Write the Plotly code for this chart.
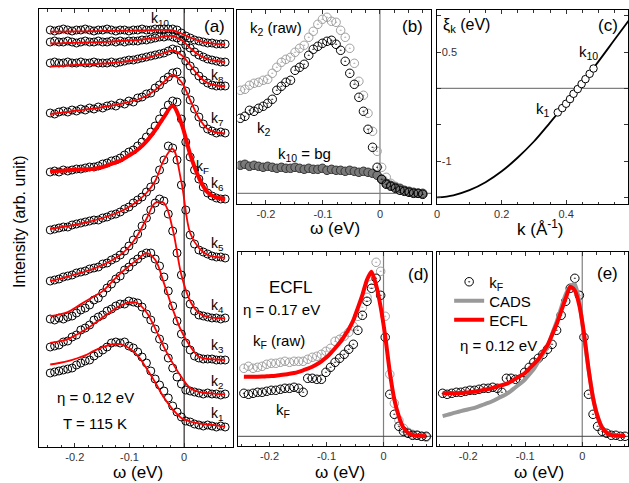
import plotly.graph_objects as go

W, H = 629, 483
FONT = "Liberation Sans, Arial, sans-serif"

# ---------------- data ----------------
# energy grid of the measured EDCs (eV)
OMEGA = [-0.245, -0.237, -0.229, -0.221, -0.213, -0.205, -0.197, -0.189, -0.181, -0.173,
         -0.165, -0.157, -0.149, -0.141, -0.133, -0.125, -0.117, -0.109, -0.101, -0.093,
         -0.085, -0.077, -0.069, -0.061, -0.053, -0.045, -0.037, -0.029, -0.021, -0.013,
         -0.005, 0.003, 0.011, 0.019, 0.027, 0.035, 0.043, 0.051, 0.059, 0.067, 0.075]
# energy grid of the fit curves in panel (a)
OMEGA_FIT = [-0.245, -0.229, -0.213, -0.197, -0.181, -0.165, -0.149, -0.133, -0.117, -0.101,
             -0.085, -0.069, -0.053, -0.037, -0.021, -0.005, 0.011, 0.027, 0.043, 0.059, 0.075]

# panel (a): stacked EDCs (arb. units, offsets included)
A_K1 = [74, 75, 76, 77, 78, 79, 82, 84, 86, 87, 91, 94, 97, 100, 104, 105, 104, 105, 101, 99,
        95, 90, 84, 76, 68, 62, 56, 49, 41, 35, 30, 26, 25, 23, 22, 21, 22, 21, 20, 21, 20]
A_K2 = [100, 101, 102, 105, 106, 110, 112, 117, 119, 122, 127, 130, 132, 136, 138, 141, 143, 143, 146, 145,
        144, 140, 133, 127, 118, 108, 100, 89, 79, 70, 63, 57, 56, 55, 54, 53, 54, 53, 53, 52, 53]
A_K3 = [128, 127, 129, 128, 130, 131, 134, 137, 139, 142, 147, 149, 154, 159, 163, 168, 171, 177, 180, 185,
        188, 192, 194, 194, 188, 181, 170, 156, 141, 126, 113, 104, 97, 91, 89, 88, 88, 88, 87, 87, 87]
A_K4 = [166, 167, 168, 170, 171, 172, 174, 175, 176, 178, 179, 180, 183, 184, 187, 189, 192, 196, 201, 207,
        213, 221, 229, 237, 244, 248, 246, 233, 216, 194, 172, 153, 143, 136, 132, 131, 130, 129, 129, 128, 129]
A_K5 = [217, 218, 219, 220, 220, 222, 223, 224, 225, 226, 227, 227, 229, 230, 232, 233, 235, 238, 240, 244,
        247, 250, 255, 260, 267, 277, 287, 301, 299, 287, 262, 237, 212, 203, 197, 195, 193, 191, 190, 190, 189]
A_K6 = [275, 276, 275, 277, 276, 277, 278, 278, 279, 280, 280, 281, 283, 284, 286, 287, 289, 292, 295, 297,
        301, 305, 310, 315, 321, 328, 335, 342, 346, 345, 328, 305, 290, 277, 268, 260, 254, 251, 249, 248, 248]
A_K7 = [334, 333, 335, 336, 335, 337, 336, 338, 337, 339, 338, 340, 339, 341, 342, 341, 344, 343, 346, 345,
        349, 350, 353, 354, 359, 362, 367, 370, 374, 375, 366, 356, 347, 338, 330, 323, 318, 316, 314, 315, 314]
A_K8 = [384, 385, 384, 384, 385, 384, 384, 385, 384, 384, 385, 384, 384, 384, 385, 384, 385, 386, 387, 387,
        388, 389, 390, 391, 392, 393, 394, 396, 398, 397, 392, 386, 381, 376, 371, 367, 364, 362, 361, 361, 361]
A_K9 = [405, 406, 405, 405, 406, 405, 404, 405, 406, 405, 405, 406, 405, 405, 406, 405, 406, 405, 406, 406,
        406, 407, 407, 408, 409, 410, 410, 411, 410, 409, 406, 402, 399, 395, 392, 390, 388, 387, 386, 385, 385]
A_K10 = [417, 416, 417, 418, 417, 416, 417, 417, 418, 417, 416, 417, 417, 418, 417, 416, 417, 417, 416, 417,
         417, 418, 417, 417, 418, 418, 418, 418, 418, 417, 414, 411, 409, 407, 406, 405, 404, 404, 403, 403, 403]

A_FIT1 = [82.5, 84, 85.8, 88.5, 91.7, 96.1, 99.8, 102.5, 102.9, 99, 91.3, 78.8, 64.8, 49.4, 37.7, 29, 25.5, 23.6, 22.5, 21.6, 20.3]
A_FIT2 = [104.2, 105.7, 107.9, 112.3, 117.2, 123.2, 129.6, 135.8, 141.2, 144.6, 143.8, 134.8, 118.7, 99.9, 83.9, 70, 59, 55, 53.8, 53.1, 52.7]
A_FIT3 = [130.8, 132.4, 134.8, 140.1, 145.4, 150.6, 155.9, 164.6, 173.4, 180.8, 187.6, 193.8, 187.2, 163.9, 138, 115.8, 100.7, 90.2, 88.1, 87.5, 87]
A_FIT4 = [166, 168, 170.5, 173, 175.5, 178.5, 182, 186.5, 192, 200, 212, 228, 244, 244, 218, 172, 146, 134, 130, 129, 128.7]
A_FIT5 = [218, 219.5, 221, 222.5, 224.5, 226.5, 229, 232, 235.5, 240, 246, 254, 266, 287, 298, 265, 214, 199, 192, 190, 189.3]
A_FIT6 = [275.5, 276.2, 276.7, 277.2, 277.7, 278.2, 280, 283.2, 286.2, 291.5, 297.3, 305.7, 316.8, 329.9, 340.9, 323.5, 292.8, 269.3, 254.7, 249.5, 248]
A_FIT7 = [333, 334, 335, 336.5, 337.5, 338.5, 340, 341.5, 343, 345, 347.5, 351, 357, 365, 372, 365, 347, 329, 318, 314.5, 313.7]
A_FIT8 = [380.5, 381, 381.5, 382, 382.5, 383, 383.5, 384, 385, 386, 387.5, 389, 391.5, 394, 396.5, 392, 382, 371, 364, 361.5, 361]
A_FIT9 = [403.5, 403.7, 404, 404.2, 404.5, 404.8, 405, 405.5, 406, 406.5, 407, 408, 409, 410.5, 411, 407, 399, 392, 388, 386, 385]
A_FIT10 = [415.3, 415.4, 415.5, 415.6, 415.7, 415.8, 416, 416.1, 416.2, 416.3, 416.5, 416.7, 417, 417.2, 416.5, 413.5, 409.5, 406.2, 404.2, 403.2, 402.7]

A_LABELS = ["k<sub>1</sub>", "k<sub>2</sub>", "k<sub>3</sub>", "k<sub>4</sub>", "k<sub>5</sub>",
            "k<sub>6</sub>", "k<sub>7</sub>", "k<sub>8</sub>", "k<sub>F</sub>", "k<sub>10</sub>"]

# panel (b)
B_RAW = [103, 104, 108, 110, 111, 113, 114, 120, 126, 131, 134, 136, 141, 145, 148, 156, 162, 169, 174, 176,
         172, 171, 163, 156, 145, 130, 112, 98, 80, 62, 42, 26, 16, 10, 7, 4, 2, 1, 0, 0, -1]
B_K2 = [75, 77, 83, 82, 85, 87, 90, 94, 103, 107, 111, 113, 123, 126, 129, 138, 144, 147, 150, 152,
        153, 149, 143, 132, 120, 109, 96, 82, 64, 46, 26, 14, 9, 7, 5, 3, 2, 1, 0, 0, -1]
B_BG = [28, 29, 27, 28, 27, 26, 27, 26, 25, 26, 25, 25, 26, 25, 24, 25, 24, 24, 25, 23,
        24, 23, 23, 22, 23, 22, 21, 22, 21, 20, 18, 14, 10, 8, 6, 5, 3, 2, 1, 0, 0]

# panel (c): dispersion
C_K = [0, 0.05, 0.1, 0.15, 0.2, 0.25, 0.3, 0.35, 0.4, 0.45, 0.5, 0.55, 0.6]
C_XI = [-1.50, -1.47, -1.40, -1.29, -1.14, -0.95, -0.73, -0.47, -0.20, 0.08, 0.37, 0.67, 0.97]
C_K_PTS = [0.374, 0.388, 0.400, 0.412, 0.423, 0.436, 0.448, 0.460, 0.473, 0.485]
C_XI_PTS = [-0.33, -0.27, -0.21, -0.146, -0.073, -0.008, 0.061, 0.129, 0.202, 0.275]

# panels (d), (e)
KF = [43, 42, 43, 44, 44, 45, 46, 46, 47, 48, 48, 49, 48, 44, 58, 58, 57, 57, 64, 69,
      74, 78, 82, 87, 92, 106, 121, 135, 148, 158, 141, 99, 42, 22, 10, 5, 3, 1, 1, 0, 0]
KF_RAW = [68, 70, 68, 69, 70, 72, 73, 73, 74, 75, 74, 75, 75, 75, 77, 79, 80, 82, 85, 88,
          95, 97, 100, 104, 110, 120, 129, 139, 152, 174, 165, 120, 62, 33, 16, 8, 4, 2, 1, 0, -1]
ECFL_D = [59.6, 59.6, 59.6, 59.6, 59.7, 60, 60.2, 60.6, 61.2, 61.8, 62.5, 63.3, 64.5, 66, 67.6, 69.6, 72, 75, 78.5, 83,
          88, 93.5, 100, 107, 116, 128.5, 141.5, 156.5, 164.5, 151.3, 129.3, 100, 64.3, 36.8, 19.6, 8.5, 3.5, 1.3, 0.7, 0.3, 0]
ECFL_E = [43, 43, 43.1, 43.1, 43.3, 43.7, 44, 44.6, 45.5, 46.4, 47.3, 48.4, 49.8, 51.2, 52.4, 54.8, 57.6, 60.3, 63, 67.7,
          72.3, 77, 84, 91, 101.3, 112, 125, 138, 149.5, 145.8, 130.6, 103.2, 67.6, 38, 19.7, 8.5, 3.5, 1.3, 0.8, 0.4, 0.2]
CADS_E = [20.2, 21.4, 22.7, 24, 25.2, 26.3, 27.4, 28.5, 30.1, 31.8, 33.4, 35.3, 37.6, 39.9, 42.2, 45.4, 49.1, 52.7, 56.4, 61.8,
          67.2, 74.5, 82, 89, 102, 114.5, 128.5, 142, 150, 152, 134, 100, 67, 39, 20, 9, 4, 1.5, 0.8, 0.5, 0.3]

TICK_W = [-0.2, -0.1, 0]
TICK_W_TEXT = ["-0.2", "-0.1", "0"]
TICK_K = [0, 0.2, 0.4]
TICK_K_TEXT = ["0", "0.2", "0.4"]
TICK_XI = [-1, 0.5]
TICK_XI_TEXT = ["-1", "0.5"]

# ---------------- figure ----------------
fig = go.Figure()

RED = "#ff0000"
A_SERIES = [A_K1, A_K2, A_K3, A_K4, A_K5, A_K6, A_K7, A_K8, A_K9, A_K10]
A_FITS = [A_FIT1, A_FIT2, A_FIT3, A_FIT4, A_FIT5, A_FIT6, A_FIT7, A_FIT8, A_FIT9, A_FIT10]

for vals in A_SERIES:
    fig.add_trace(go.Scatter(x=OMEGA, y=vals, mode="markers", xaxis="x", yaxis="y",
                             marker=dict(symbol="circle-open", size=8, color="black", line=dict(width=1)),
                             showlegend=False, hoverinfo="skip"))
for i, fit in enumerate(A_FITS):
    fig.add_trace(go.Scatter(x=OMEGA_FIT, y=fit, mode="lines", xaxis="x", yaxis="y",
                             line=dict(color=RED, width=4 if i == 5 else 1.8, shape="spline", smoothing=1),
                             showlegend=False, hoverinfo="skip"))

# (b)
fig.add_trace(go.Scatter(x=OMEGA, y=B_RAW, mode="markers", xaxis="x2", yaxis="y2",
                         marker=dict(symbol="circle-open-dot", size=8.5, color="#a0a0a0", line=dict(width=1)),
                         showlegend=False, hoverinfo="skip"))
fig.add_trace(go.Scatter(x=OMEGA, y=B_BG, mode="markers", xaxis="x2", yaxis="y2",
                         marker=dict(symbol="circle", size=8.5, color="#7a7a7a", line=dict(width=1, color="#333333")),
                         showlegend=False, hoverinfo="skip"))
fig.add_trace(go.Scatter(x=OMEGA, y=B_K2, mode="markers", xaxis="x2", yaxis="y2",
                         marker=dict(symbol="circle-open-dot", size=8.5, color="black", line=dict(width=1)),
                         showlegend=False, hoverinfo="skip"))

# (c)
fig.add_trace(go.Scatter(x=C_K, y=C_XI, mode="lines", xaxis="x3", yaxis="y3",
                         line=dict(color="black", width=1.8, shape="spline", smoothing=1),
                         showlegend=False, hoverinfo="skip"))
fig.add_trace(go.Scatter(x=C_K_PTS, y=C_XI_PTS, mode="markers", xaxis="x3", yaxis="y3",
                         marker=dict(symbol="circle", size=7.5, color="white", line=dict(width=1, color="black")),
                         showlegend=False, hoverinfo="skip"))

# (d)
fig.add_trace(go.Scatter(x=OMEGA, y=KF_RAW, mode="markers", xaxis="x4", yaxis="y4",
                         marker=dict(symbol="circle-open-dot", size=8.5, color="#a0a0a0", line=dict(width=1)),
                         showlegend=False, hoverinfo="skip"))
fig.add_trace(go.Scatter(x=OMEGA, y=KF, mode="markers", xaxis="x4", yaxis="y4",
                         marker=dict(symbol="circle-open-dot", size=8.5, color="black", line=dict(width=1)),
                         showlegend=False, hoverinfo="skip"))
fig.add_trace(go.Scatter(x=OMEGA, y=ECFL_D, mode="lines", xaxis="x4", yaxis="y4",
                         line=dict(color=RED, width=4, shape="spline", smoothing=0.6),
                         showlegend=False, hoverinfo="skip"))

# (e) – each legend entry gets its own legend box so the rows sit where the reference has them
fig.add_trace(go.Scatter(x=OMEGA, y=KF, mode="markers", xaxis="x5", yaxis="y5", name="k<sub>F</sub>",
                         marker=dict(symbol="circle-open-dot", size=8.5, color="black", line=dict(width=1)),
                         showlegend=True, legend="legend", hoverinfo="skip"))
fig.add_trace(go.Scatter(x=OMEGA, y=CADS_E, mode="lines", xaxis="x5", yaxis="y5", name="CADS",
                         line=dict(color="#999999", width=4, shape="spline", smoothing=0.6),
                         showlegend=True, legend="legend2", hoverinfo="skip"))
fig.add_trace(go.Scatter(x=OMEGA, y=ECFL_E, mode="lines", xaxis="x5", yaxis="y5", name="ECFL",
                         line=dict(color=RED, width=4, shape="spline", smoothing=0.6),
                         showlegend=True, legend="legend3", hoverinfo="skip"))


def dom_x(a, b):
    return [a / W, b / W]


def dom_y(top, bottom):
    return [1 - bottom / H, 1 - top / H]


def xax(dom, rng, anchor, tickvals, ticktext, minor_dtick):
    return dict(domain=dom, range=rng, anchor=anchor, showgrid=False, zeroline=False,
                showline=True, linecolor="black", linewidth=1, mirror="ticks",
                ticks="inside", ticklen=4, tickwidth=1, tickcolor="#333333",
                tickmode="array", tickvals=tickvals, ticktext=ticktext,
                tickfont=dict(size=11, color="#333333", family=FONT),
                minor=dict(ticks="inside", ticklen=2.5, tickwidth=1, tickcolor="#333333",
                           dtick=minor_dtick, tick0=0, showgrid=False))


def yax(dom, rng, anchor):
    return dict(domain=dom, range=rng, anchor=anchor, showgrid=False, zeroline=False,
                showline=True, linecolor="black", linewidth=1, mirror=True,
                ticks="", showticklabels=False)


def leg(ypx):
    return dict(x=449 / W, y=1 - ypx / H, xanchor="left", yanchor="middle", bgcolor="rgba(0,0,0,0)",
                borderwidth=0, font=dict(size=15, family=FONT, color="black"),
                itemwidth=30, tracegroupgap=0)


layout = dict(
    width=W, height=H, margin=dict(l=0, r=0, t=0, b=0),
    paper_bgcolor="white", plot_bgcolor="white",
    font=dict(family=FONT, color="black"),
    xaxis=xax(dom_x(36.7, 231.3), [-0.2647, 0.0891], "y", TICK_W, TICK_W_TEXT, 0.025),
    yaxis=yax(dom_y(9, 447), [0, 438], "x"),
    xaxis2=xax(dom_x(236, 431), [-0.250, 0.090], "y2", TICK_W, TICK_W_TEXT, 0.025),
    yaxis2=yax(dom_y(10, 204), [-10.7, 183.3], "x2"),
    xaxis3=xax(dom_x(436.7, 629), [-0.001, 0.592], "y3", TICK_K, TICK_K_TEXT, 0.05),
    yaxis3=dict(domain=dom_y(10, 204), range=[-1.59, 1.08], anchor="x3", showgrid=False, zeroline=False,
                showline=True, linecolor="black", linewidth=1, mirror="ticks",
                ticks="inside", ticklen=4, tickcolor="#333333", ticklabelposition="inside",
                tickmode="array", tickvals=TICK_XI, ticktext=TICK_XI_TEXT,
                tickfont=dict(size=11, color="#333333", family=FONT),
                minor=dict(ticks="inside", ticklen=4, tickcolor="#333333", dtick=0.5, tick0=0)),
    xaxis4=xax(dom_x(236.7, 431.7), [-0.255, 0.085], "y4", TICK_W, TICK_W_TEXT, 0.025),
    yaxis4=yax(dom_y(252.3, 446), [-9.7, 184], "x4"),
    xaxis5=xax(dom_x(436.7, 629), [-0.255, 0.0803], "y5", TICK_W, TICK_W_TEXT, 0.025),
    yaxis5=yax(dom_y(252.3, 446), [-9.7, 184], "x5"),
    legend=leg(282),
    legend2=leg(301),
    legend3=leg(320),
)

shapes = [
    dict(type="line", xref="x", yref="y domain", x0=0, x1=0, y0=0, y1=1, line=dict(color="black", width=1), layer="below"),
    dict(type="line", xref="x2", yref="y2 domain", x0=0, x1=0, y0=0, y1=1, line=dict(color="#808080", width=1.2), layer="below"),
    dict(type="line", xref="x2 domain", yref="y2", x0=0, x1=1, y0=0, y1=0, line=dict(color="#808080", width=1.2), layer="below"),
    dict(type="line", xref="x3 domain", yref="y3", x0=0, x1=1, y0=0, y1=0, line=dict(color="#808080", width=1.2), layer="below"),
    dict(type="line", xref="x4", yref="y4 domain", x0=0, x1=0, y0=0, y1=1, line=dict(color="#808080", width=1.2), layer="below"),
    dict(type="line", xref="x4 domain", yref="y4", x0=0, x1=1, y0=0, y1=0, line=dict(color="#444444", width=1), layer="below"),
    dict(type="line", xref="x5", yref="y5 domain", x0=0, x1=0, y0=0, y1=1, line=dict(color="#808080", width=1.2), layer="below"),
    dict(type="line", xref="x5 domain", yref="y5", x0=0, x1=1, y0=0, y1=0, line=dict(color="#444444", width=1), layer="below"),
]


def ann(text, xpx, ypx, size=14, xanchor="center", angle=0):
    return dict(text=text, x=xpx / W, y=1 - ypx / H, xref="paper", yref="paper", showarrow=False,
                font=dict(size=size, family=FONT, color="black"), xanchor=xanchor, yanchor="middle",
                textangle=angle)


A_LABEL_POS = [(215.5, 414), (215.5, 382), (215.5, 346), (215.5, 306), (215.5, 244),
               (215.5, 184), (215.5, 119), (215.5, 76), (201, 167), (158, 19)]

annotations = [ann(t, x, y, 14) for t, (x, y) in zip(A_LABELS, A_LABEL_POS)]
annotations += [
    ann("(a)", 212.7, 27, 17),
    ann("η = 0.12 eV", 93.3, 397, 15),
    ann("T = 115 K", 92.5, 423, 15),
    ann("Intensity (arb. unit)", 17, 221, 16, angle=-90),
    ann("ω (eV)", 136, 472.5, 17),
    ann("k<sub>2</sub> (raw)", 274.7, 28, 15),
    ann("k<sub>2</sub>", 262.7, 128, 15),
    ann("k<sub>10</sub> = bg", 303.3, 154, 15),
    ann("(b)", 412.5, 27, 17),
    ann("ω (eV)", 334, 228, 17),
    ann("ξ<sub>k</sub> (eV)", 441, 25, 16, xanchor="left"),
    ann("(c)", 609, 26, 17),
    ann("k<sub>1</sub>", 543.3, 109, 15),
    ann("k<sub>10</sub>", 589.5, 52, 15),
    ann("k (Å<sup>-1</sup>)", 540, 228, 17),
    ann("ECFL", 289, 287, 17),
    ann("η = 0.17 eV", 280, 309, 15),
    ann("k<sub>F</sub> (raw)", 277.5, 341, 15),
    ann("k<sub>F</sub>", 281.7, 410, 15),
    ann("(d)", 418.3, 274, 17),
    ann("ω (eV)", 339, 472, 17),
    ann("η = 0.12 eV", 458, 345, 15, xanchor="left"),
    ann("(e)", 608.3, 273, 17),
    ann("ω (eV)", 539, 472, 17),
]
# the first k tick label of panel (c) is hidden by plotly next to the inside y labels; add it back
annotations.append(dict(text=TICK_K_TEXT[0], x=TICK_K[0], xref="x3", y=1 - 214 / H, yref="paper",
                        showarrow=False, xanchor="center", yanchor="middle",
                        font=dict(size=11, color="#333333", family=FONT)))

layout["shapes"] = shapes
layout["annotations"] = annotations
fig.update_layout(**layout)

fig.write_html("out.html", config={"displayModeBar": False})

# remove the browser's default page margin so the figure starts at the window corner
with open("out.html", "r", encoding="utf-8") as fh:
    page = fh.read()
page = page.replace("<head>", "<head><style>html,body{margin:0;padding:0;overflow:hidden;}</style>", 1)
with open("out.html", "w", encoding="utf-8") as fh:
    fh.write(page)
